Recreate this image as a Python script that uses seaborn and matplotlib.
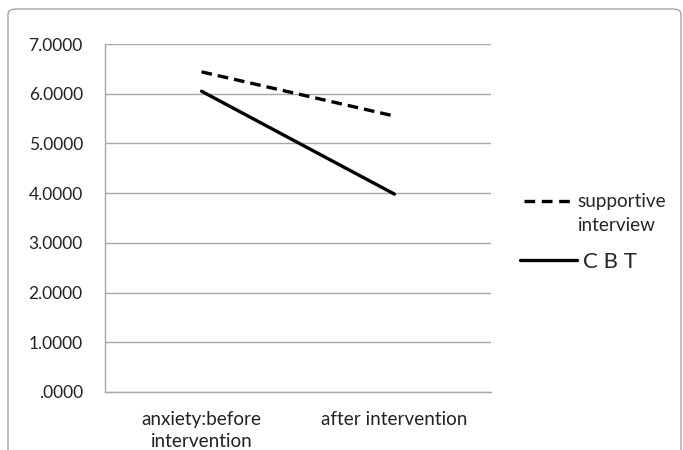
import matplotlib
matplotlib.use("Agg")
import matplotlib.pyplot as plt
import seaborn as sns
import pandas as pd
from matplotlib.patches import FancyBboxPatch
from matplotlib.lines import Line2D
from matplotlib.ticker import FuncFormatter, FixedLocator

phases = ["anxiety:before\nintervention", "after intervention"]
supportive = [6.44, 5.55]
cbt = [6.05, 3.98]
series_names = ["supportive\ninterview", "C B T"]
yticks = [0, 1, 2, 3, 4, 5, 6, 7]

df = pd.DataFrame({
    "phase": phases * 2,
    "value": supportive + cbt,
    "group": [series_names[0]] * 2 + [series_names[1]] * 2,
})

sns.set_style("white")
plt.rcParams["font.family"] = ["Lato", "DejaVu Sans"]

FS = 13.6
FSY = 12.5
fig = plt.figure(figsize=(6.83, 4.5), dpi=100)
ax = fig.add_axes([105/683, 1-392/450, (491-105)/683, (392-44)/450])

frame = FancyBboxPatch((8/683, -0.2), (681-8)/683, 1.2 - 9/450,
                       boxstyle="round,pad=0,rounding_size=0.012",
                       transform=fig.transFigure, fill=False, edgecolor="#9a9a9a",
                       linewidth=0.9, clip_on=False, zorder=0)
fig.patches.append(frame)

sns.lineplot(data=df, x="phase", y="value", style="group", hue="group",
             palette={series_names[0]: "black", series_names[1]: "black"},
             dashes={series_names[0]: (3.2, 1.8), series_names[1]: ""},
             linewidth=2.4, legend=False, ax=ax, sort=False)

ax.set_xlim(-0.5, 1.5)
ax.set_ylim(0, 7)
ax.set_yticks(yticks)
ax.yaxis.set_major_formatter(FuncFormatter(lambda v, p: ("%.4f" % v) if v != 0 else ".0000"))
ax.grid(axis="y", color="#a6a6a6", linewidth=1.0)
ax.set_axisbelow(True)
for s in ["top", "right"]:
    ax.spines[s].set_visible(False)
for s in ["left", "bottom"]:
    ax.spines[s].set_color("#a6a6a6")
    ax.spines[s].set_linewidth(1.0)

ax.set_xticks([0, 1])
ax.set_xticklabels(phases, fontsize=FS, color="#222222", linespacing=1.34)
ax.xaxis.set_minor_locator(FixedLocator([-0.5, 0.5, 1.5]))
ax.tick_params(axis="x", which="major", length=0, pad=14)
ax.tick_params(axis="x", which="minor", length=5, width=1.0, color="#a6a6a6", direction="out")
ax.tick_params(axis="y", length=5, width=1.0, color="#a6a6a6", direction="out", pad=11,
               labelsize=FSY, labelcolor="#222222")
ax.set_xlabel("")
ax.set_ylabel("")

# legend entry 1: dashed line aligned with the first text line
lab1, lab2 = series_names[0].split("\n")
h1 = [Line2D([], [], color="black", linewidth=2.4, linestyle=(0, (3.2, 2.0))),
      Line2D([], [], color="none", linewidth=0)]
leg1 = fig.legend(h1, [lab1, lab2], loc="center left",
                  bbox_to_anchor=(524/683, 1-213.5/450), frameon=False,
                  handlelength=2.42, handletextpad=0.42, labelspacing=0.32,
                  borderpad=0, borderaxespad=0, fontsize=FS)
h2 = [Line2D([], [], color="black", linewidth=2.4)]
leg2 = fig.legend(h2, [series_names[1]], loc="center left",
                  bbox_to_anchor=(520/683, 1-262/450), frameon=False,
                  handlelength=2.57, handletextpad=0.27,
                  borderpad=0, borderaxespad=0, fontsize=16)

fig.savefig("out.png", dpi=100)
